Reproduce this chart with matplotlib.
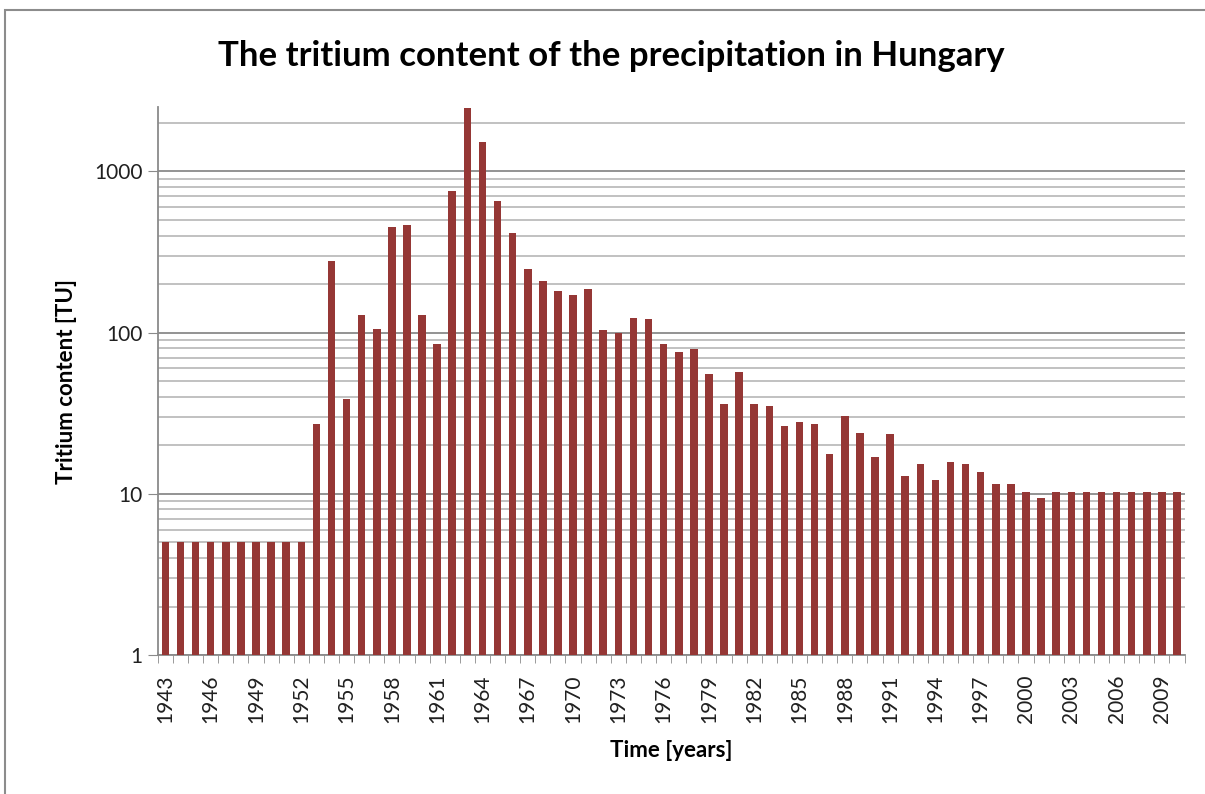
import numpy as np
import matplotlib.pyplot as plt
from matplotlib.ticker import FixedLocator, NullFormatter, LogLocator
from matplotlib.patches import Rectangle

years = list(range(1943, 2011))
tritium = [5, 5, 5, 5, 5, 5, 5, 5, 5, 5,          # 1943-1952
           27, 277, 38.7, 128, 105, 451, 467, 128, 85.5, 756,   # 1953-1962
           2475, 1513, 655, 417, 249, 208, 180, 170, 187, 104.5,  # 1963-1972
           100, 124, 121, 85.5, 76.3, 79, 55.6, 36, 57.3, 36,    # 1973-1982
           35, 26.3, 27.8, 27, 17.6, 30.4, 23.7, 17, 23.5, 12.9,  # 1983-1992
           15.2, 12.1, 15.8, 15.2, 13.6, 11.5, 11.5, 10.2, 9.4, 10.2,  # 1993-2002
           10.2, 10.2, 10.2, 10.2, 10.2, 10.2, 10.2, 10.2]      # 2003-2010
label_years = years[::3]

bar_color = "#953735"
font = ["Lato", "DejaVu Sans"]
plt.rcParams['font.family'] = font

fig = plt.figure(figsize=(12.05, 7.94), dpi=100)
ax = fig.add_axes([0.131, 0.175, 0.852, 0.69])

# chart area frame
fig.patches.append(Rectangle((0.004, -0.1), 1.2, 1.087, transform=fig.transFigure,
                             fill=False, edgecolor="#8c8c8c", linewidth=1.5))

pos = np.arange(len(years))
ax.set_yscale("log")
ax.bar(pos, tritium, width=0.5, color=bar_color, zorder=3, bottom=0)
ax.set_ylim(1, 2500)
ax.set_xlim(-0.5, len(years) - 0.5)

ax.yaxis.set_major_locator(FixedLocator([1, 10, 100, 1000]))
ax.set_yticklabels(["1", "10", "100", "1000"], fontsize=15, color="#202020")
ax.yaxis.set_minor_locator(LogLocator(base=10, subs=np.arange(2, 10)))
ax.yaxis.set_minor_formatter(NullFormatter())
ax.grid(which="major", axis="y", color="#8a8a8a", linewidth=1.3, zorder=0)
ax.grid(which="minor", axis="y", color="#b0b0b0", linewidth=1.1, zorder=0)
ax.tick_params(axis="y", which="major", length=7, color="#8a8a8a", pad=4)
ax.tick_params(axis="y", which="minor", length=0)

ax.set_xticks([years.index(y) for y in label_years])
ax.set_xticklabels([str(y) for y in label_years], rotation=90, fontsize=15, color="#202020")
ax.set_xticks(np.arange(-0.5, len(years)), minor=True)
ax.tick_params(axis="x", which="major", length=0, pad=14)
ax.tick_params(axis="x", which="minor", length=6, color="#8a8a8a")

for side in ["top", "right"]:
    ax.spines[side].set_visible(False)
for side in ["left", "bottom"]:
    ax.spines[side].set_color("#8a8a8a")
    ax.spines[side].set_linewidth(1.3)

ax.set_ylabel("Tritium content [TU]", fontsize=16, fontweight="bold", labelpad=12)
ax.set_xlabel("Time [years]", fontsize=16, fontweight="bold", labelpad=12)
fig.text(0.507, 0.93, "The tritium content of the precipitation in Hungary",
         ha="center", va="center", fontsize=25, fontweight="bold")

fig.savefig("out.png", dpi=100)
